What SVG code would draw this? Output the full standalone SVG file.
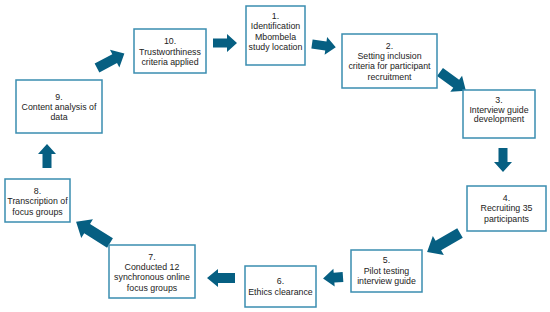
<svg xmlns="http://www.w3.org/2000/svg" width="550" height="312" viewBox="0 0 550 312">
<style>
.box{fill:#fff;stroke:#3a8db0;stroke-width:1.5}
text{font-family:"Liberation Sans",Arial,sans-serif;font-size:8.8px;fill:#222;text-anchor:middle;dominant-baseline:central}
.arr{fill:#065f82}
</style>
<defs>
<path id="a" d="M0,-4.5 L14,-4.5 L14,-9 L24,0 L14,9 L14,4.5 L0,4.5 Z"/>
</defs>
<rect width="550" height="312" fill="#fff"/>
<g id="connectors" class="arr">
<use href="#a" transform="translate(213,43)"/>
<use href="#a" transform="translate(312,44) rotate(8)"/>
<path d="M0,-5 L20,-5 L20,-10 L32,0 L20,10 L20,5 L0,5 Z" transform="translate(440,72) rotate(36)"/>
<use href="#a" transform="translate(503,148) rotate(90)"/>
<path d="M0,-5.5 L25,-5.5 L25,-11 L38,0 L25,11 L25,5.5 L0,5.5 Z" transform="translate(460,233) rotate(150)"/>
<path d="M0,-5 L9,-5 L9,-9 L20,0 L9,9 L9,5 L0,5 Z" transform="translate(343,277) rotate(176)"/>
<path d="M0,-5 L17,-5 L17,-9 L28,0 L17,9 L17,5 L0,5 Z" transform="translate(235,278) rotate(180)"/>
<path d="M0,-5.5 L27,-5.5 L27,-11 L40,0 L27,11 L27,5.5 L0,5.5 Z" transform="translate(110,243) rotate(-148)"/>
<use href="#a" transform="translate(47,168) rotate(-90)"/>
<path d="M0,-5 L20,-5 L20,-10 L31,0 L20,10 L20,5 L0,5 Z" transform="translate(97,68) rotate(-28)"/>
</g>
<g id="n1"><rect class="box" x="246" y="6" width="59" height="59"/>
<text x="275.5" y="16">1.</text><text x="275.5" y="26">Identification</text><text x="275.5" y="37">Mbombela</text><text x="275.5" y="47">study location</text></g>
<g id="n2"><rect class="box" x="342" y="34" width="95" height="54"/>
<text x="389.5" y="46">2.</text><text x="389.5" y="56">Setting inclusion</text><text x="389.5" y="66">criteria for participant</text><text x="389.5" y="77">recruitment</text></g>
<g id="n3"><rect class="box" x="463" y="90" width="72" height="48"/>
<text x="499" y="100">3.</text><text x="499" y="110">Interview guide</text><text x="499" y="119">development</text></g>
<g id="n4"><rect class="box" x="467" y="186" width="79" height="45"/>
<text x="506.5" y="198">4.</text><text x="506.5" y="208">Recruiting 35</text><text x="506.5" y="219">participants</text></g>
<g id="n5"><rect class="box" x="351" y="250" width="71" height="42"/>
<text x="386.5" y="260">5.</text><text x="386.5" y="271">Pilot testing</text><text x="386.5" y="281">interview guide</text></g>
<g id="n6"><rect class="box" x="245" y="266" width="71" height="41"/>
<text x="280.5" y="281">6.</text><text x="280.5" y="292">Ethics clearance</text></g>
<g id="n7"><rect class="box" x="109" y="245" width="86" height="53"/>
<text x="152" y="257">7.</text><text x="152" y="267">Conducted 12</text><text x="152" y="277">synchronous online</text><text x="152" y="288">focus groups</text></g>
<g id="n8"><rect class="box" x="5" y="179" width="65" height="43"/>
<text x="37.5" y="191">8.</text><text x="37.5" y="201">Transcription of</text><text x="37.5" y="212">focus groups</text></g>
<g id="n9"><rect class="box" x="16" y="80" width="86" height="53"/>
<text x="59" y="97">9.</text><text x="59" y="107">Content analysis of</text><text x="59" y="117">data</text></g>
<g id="n10"><rect class="box" x="134" y="29" width="72" height="44"/>
<text x="170" y="41">10.</text><text x="170" y="52">Trustworthiness</text><text x="170" y="62">criteria applied</text></g>
</svg>
